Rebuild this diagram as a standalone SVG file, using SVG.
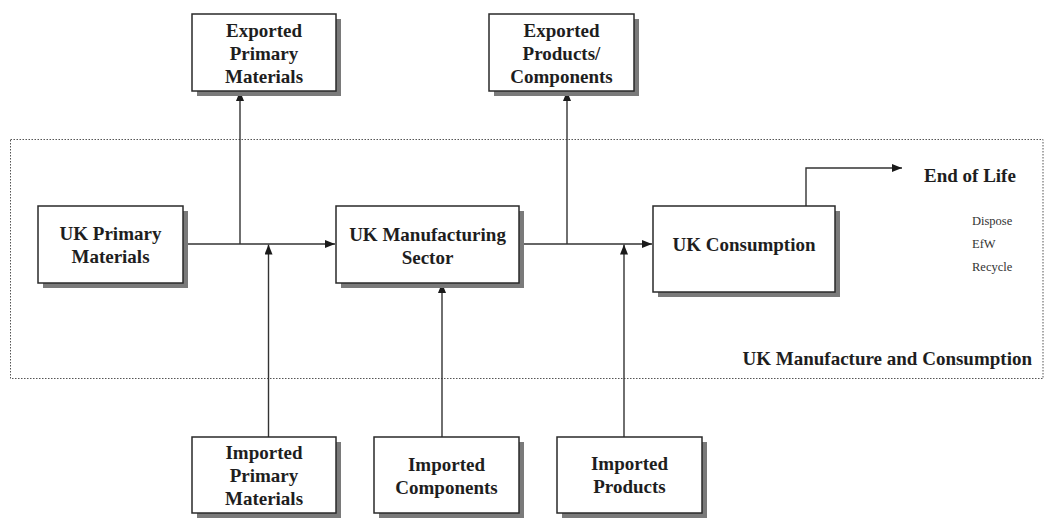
<svg xmlns="http://www.w3.org/2000/svg" width="1048" height="519" viewBox="0 0 1048 519">
  <defs>
    <marker id="arrow" viewBox="0 0 10 8" refX="10" refY="4" markerWidth="10" markerHeight="8" markerUnits="userSpaceOnUse" orient="auto">
      <path d="M0,0 L10,4 L0,8 Z" fill="#1a1a1a"/>
    </marker>
  </defs>
  <style>
    .box { fill: #ffffff; stroke: #2a2a2a; stroke-width: 1.5; }
    .shadow { fill: #7a7a7a; }
    .label { font-family: "Liberation Serif", "Times New Roman", serif; font-weight: bold; font-size: 19px; fill: #1e1e1e; text-anchor: middle; }
    .small { font-family: "Liberation Serif", "Times New Roman", serif; font-size: 12.5px; fill: #333333; }
    .link { fill: none; stroke: #333333; stroke-width: 1.4; }
    .zone { fill: none; stroke: #555555; stroke-width: 1; stroke-dasharray: 1.5 1.5; }
  </style>
  <rect width="1048" height="519" fill="#ffffff"/>

  <!-- UK boundary -->
  <g id="uk-boundary">
    <rect class="zone" x="10.5" y="139.5" width="1032.5" height="239"/>
    <text class="label" x="1032" y="365" style="text-anchor:end">UK Manufacture and Consumption</text>
  </g>

  <!-- Connectors -->
  <g id="connectors">
    <path class="link" d="M183,244 H335" marker-end="url(#arrow)"/>
    <path class="link" d="M240,244 V91" marker-end="url(#arrow)"/>
    <path class="link" d="M268.5,437 V244.5" marker-end="url(#arrow)"/>
    <path class="link" d="M519,244 H652" marker-end="url(#arrow)"/>
    <path class="link" d="M567,244 V91" marker-end="url(#arrow)"/>
    <path class="link" d="M624,437 V244.5" marker-end="url(#arrow)"/>
    <path class="link" d="M442,437 V283" marker-end="url(#arrow)"/>
    <path class="link" d="M806,206 V168 H902" marker-end="url(#arrow)"/>
  </g>

  <g id="exported-primary">
    <rect class="shadow" x="197" y="19" width="144" height="77"/>
    <rect class="box" x="192" y="14" width="144" height="77"/>
    <text class="label" x="264" y="37">Exported</text>
    <text class="label" x="264" y="60">Primary</text>
    <text class="label" x="264" y="83">Materials</text>
  </g>

  <g id="exported-products">
    <rect class="shadow" x="494" y="19" width="145" height="77"/>
    <rect class="box" x="489" y="14" width="145" height="77"/>
    <text class="label" x="561.5" y="37">Exported</text>
    <text class="label" x="561.5" y="60">Products/</text>
    <text class="label" x="561.5" y="83">Components</text>
  </g>

  <g id="uk-primary">
    <rect class="shadow" x="43" y="211" width="145" height="77"/>
    <rect class="box" x="38" y="206" width="145" height="77"/>
    <text class="label" x="110.5" y="240">UK Primary</text>
    <text class="label" x="110.5" y="263">Materials</text>
  </g>

  <g id="uk-manufacturing">
    <rect class="shadow" x="341" y="211" width="183" height="77"/>
    <rect class="box" x="336" y="206" width="183" height="77"/>
    <text class="label" x="427.5" y="241">UK Manufacturing</text>
    <text class="label" x="427.5" y="264">Sector</text>
  </g>

  <g id="uk-consumption">
    <rect class="shadow" x="658" y="211" width="182" height="86"/>
    <rect class="box" x="653" y="206" width="182" height="86"/>
    <text class="label" x="744" y="251">UK Consumption</text>
  </g>

  <g id="end-of-life">
    <text class="label" x="924" y="182" style="text-anchor:start">End of Life</text>
    <text class="small" x="972" y="225">Dispose</text>
    <text class="small" x="972" y="248">EfW</text>
    <text class="small" x="972" y="271">Recycle</text>
  </g>

  <g id="imported-primary">
    <rect class="shadow" x="197" y="442" width="144" height="76"/>
    <rect class="box" x="192" y="437" width="144" height="76"/>
    <text class="label" x="264" y="459">Imported</text>
    <text class="label" x="264" y="482">Primary</text>
    <text class="label" x="264" y="505">Materials</text>
  </g>

  <g id="imported-components">
    <rect class="shadow" x="379" y="442" width="145" height="76"/>
    <rect class="box" x="374" y="437" width="145" height="76"/>
    <text class="label" x="446.5" y="471">Imported</text>
    <text class="label" x="446.5" y="494">Components</text>
  </g>

  <g id="imported-products">
    <rect class="shadow" x="562" y="442" width="145" height="76"/>
    <rect class="box" x="557" y="437" width="145" height="76"/>
    <text class="label" x="629.5" y="470">Imported</text>
    <text class="label" x="629.5" y="493">Products</text>
  </g>
</svg>
